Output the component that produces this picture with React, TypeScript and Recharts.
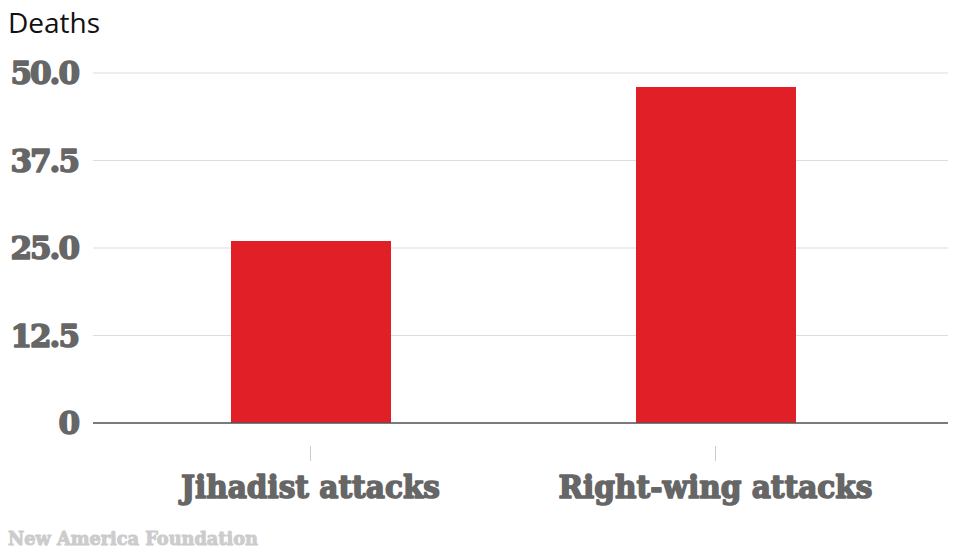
import React from "react";
import { BarChart, Bar, XAxis, YAxis, CartesianGrid } from "recharts";

const categories = ["Jihadist attacks", "Right-wing attacks"];
const deaths = [26, 48];
const yTicks = [0, 12.5, 25, 37.5, 50];
const labelWidths = [259, 314];

const data = categories.map((c, i) => ({ name: c, deaths: deaths[i] }));

const fmt = (v: number) => (v === 0 ? "0" : v.toFixed(1));

const slab = "'DejaVu Serif', serif";

const XTick = (props: any) => {
  const { x, y, payload, index } = props;
  return (
    <g>
      <line x1={x} x2={x} y1={y + 15} y2={y + 30} stroke="#cccccc" strokeWidth={1} />
      <text
        x={x}
        y={y + 67}
        textAnchor="middle"
        fill="#666666"
        stroke="#666666"
        strokeWidth={1.6}
        strokeLinejoin="round"
        fontFamily={slab}
        fontWeight={900}
        fontSize={32}
        textLength={labelWidths[index]}
        lengthAdjust="spacingAndGlyphs"
      >
        {payload.value}
      </text>
    </g>
  );
};

const YTick = (props: any) => {
  const { x, y, payload } = props;
  return (
    <text
      x={x}
      y={y + 11}
      textAnchor="end"
      fill="#666666"
      stroke="#666666"
      strokeWidth={1.6}
      strokeLinejoin="round"
      fontFamily={slab}
      fontWeight={900}
      fontSize={31}
      letterSpacing={-2}
    >
      {fmt(payload.value)}
    </text>
  );
};

export default function App() {
  return (
    <div style={{ position: "absolute", left: 0, top: 0, width: 980, height: 551, background: "#fff" }}>
      <div
        style={{
          position: "absolute",
          left: 8,
          top: 3,
          fontFamily: "'Open Sans', sans-serif",
          fontSize: 28,
          color: "#111",
        }}
      >
        Deaths
      </div>
      <BarChart
        width={980}
        height={551}
        data={data}
        margin={{ top: 73, right: 32, bottom: 0, left: 0 }}
      >
        <CartesianGrid horizontal={true} vertical={false} stroke="#dddddd" strokeWidth={1} />
        <XAxis
          dataKey="name"
          height={128}
          padding={{ left: 15, right: 30 }}
          axisLine={{ stroke: "#555555", strokeWidth: 1.5 }}
          tickLine={false}
          tick={<XTick />}
          interval={0}
        />
        <YAxis
          width={93}
          domain={[0, 50]}
          ticks={yTicks}
          axisLine={false}
          tickLine={false}
          tickSize={0}
          tickMargin={15}
          tick={<YTick />}
        />
        <Bar dataKey="deaths" fill="#e01f26" barSize={160} isAnimationActive={false} />
      </BarChart>
      <svg style={{ position: "absolute", left: 0, top: 520 }} width={300} height={31}>
        <text
          x={8}
          y={25}
          fill="#cccccc"
          stroke="#cccccc"
          strokeWidth={1}
          strokeLinejoin="round"
          fontFamily={slab}
          fontWeight={900}
          fontSize={18}
          textLength={250}
          lengthAdjust="spacingAndGlyphs"
        >
          New America Foundation
        </text>
      </svg>
    </div>
  );
}
